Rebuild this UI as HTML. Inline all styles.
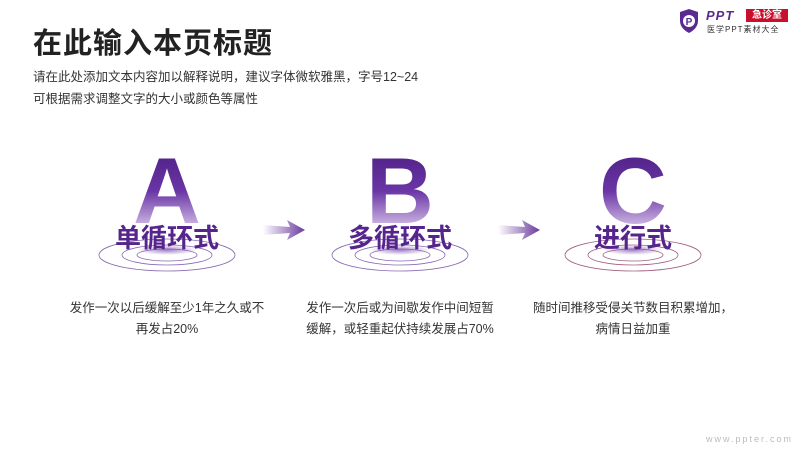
<!DOCTYPE html>
<html><head><meta charset="utf-8"><style>
body{margin:0;width:800px;height:450px;background:#fff;position:relative;overflow:hidden;font-family:"Liberation Sans","Noto Sans CJK SC",sans-serif;}
.t{position:absolute;left:33px;top:20px;font-size:29px;font-weight:bold;color:#222;letter-spacing:1px}
.s{position:absolute;left:33px;font-size:12.5px;color:#333}
.col{position:absolute;top:140px;width:232px;text-align:center}
.L{position:absolute;left:0;width:100%;top:4px;font-size:94px;font-weight:bold;line-height:94px;font-family:"Liberation Sans",sans-serif;background:linear-gradient(#4a1e80 0%,#6a35a5 50%,#c8b0e0 85%,#fff 100%);-webkit-background-clip:text;background-clip:text;color:transparent}
.N{position:absolute;left:0;width:100%;top:78px;font-size:26px;font-weight:bold;color:#55248c}
.d{position:absolute;top:158px;left:0;width:100%;font-size:12.5px;color:#333;line-height:21px}
svg{position:absolute}
</style></head><body>
<div class="t">在此输入本页标题</div>
<div class="s" style="top:66px">请在此处添加文本内容加以解释说明，建议字体微软雅黑，字号12~24</div>
<div class="s" style="top:88px">可根据需求调整文字的大小或颜色等属性</div>
<svg style="left:678px;top:8px" width="22" height="26" viewBox="0 0 22 26"><path d="M11 1 L20 4 V13 C20 19 15 23 11 25 C7 23 2 19 2 13 V4 Z" fill="#5b2a90"/><circle cx="11" cy="13" r="6" fill="#fff"/><text x="11" y="17" font-size="10" font-weight="bold" text-anchor="middle" fill="#5b2a90" font-family="Liberation Sans">P</text></svg>
<div style="position:absolute;left:706px;top:8px;font-size:13px;font-weight:bold;font-style:italic;color:#5b2a90;letter-spacing:1px">PPT</div>
<div style="position:absolute;left:746px;top:9px;width:42px;height:13px;background:#c8102e;color:#fff;font-size:10px;line-height:13px;text-align:center;font-weight:bold">急诊室</div>
<div style="position:absolute;left:707px;top:24px;font-size:8px;color:#333;letter-spacing:1px">医学PPT素材大全</div>

<svg width="800" height="300" style="left:0;top:150px">
<defs>
<linearGradient id="ar" x1="0" x2="1"><stop offset="0" stop-color="#fff"/><stop offset="1" stop-color="#6a3a9e"/></linearGradient>
<radialGradient id="gl"><stop offset="0" stop-color="#7a4aae" stop-opacity=".7"/><stop offset="1" stop-color="#7a4aae" stop-opacity="0"/></radialGradient>
</defs>
<g fill="none" stroke="#8a6ab0" stroke-width="0.8">
<ellipse cx="167" cy="105" rx="68" ry="16"/><ellipse cx="167" cy="105" rx="45" ry="10"/><ellipse cx="167" cy="105" rx="30" ry="6"/>
<ellipse cx="400" cy="105" rx="68" ry="16"/><ellipse cx="400" cy="105" rx="45" ry="10"/><ellipse cx="400" cy="105" rx="30" ry="6"/>
</g>
<g fill="none" stroke="#a06080" stroke-width="0.8">
<ellipse cx="633" cy="105" rx="68" ry="16"/><ellipse cx="633" cy="105" rx="45" ry="10"/><ellipse cx="633" cy="105" rx="30" ry="6"/>
</g>
<ellipse cx="167" cy="100" rx="30" ry="5" fill="url(#gl)"/>
<ellipse cx="400" cy="100" rx="30" ry="5" fill="url(#gl)"/>
<ellipse cx="633" cy="100" rx="30" ry="5" fill="url(#gl)"/>
<path d="M263 75 L290 77 L287 70 L305 80 L287 90 L290 83 L263 85 Z" fill="url(#ar)"/>
<path d="M498 75 L525 77 L522 70 L540 80 L522 90 L525 83 L498 85 Z" fill="url(#ar)"/>
</svg>

<div class="col" style="left:51px"><div class="L">A</div><div class="N">单循环式</div><div class="d">发作一次以后缓解至少1年之久或不<br>再发占20%</div></div>
<div class="col" style="left:284px"><div class="L">B</div><div class="N">多循环式</div><div class="d">发作一次后或为间歇发作中间短暂<br>缓解，或轻重起伏持续发展占70%</div></div>
<div class="col" style="left:517px"><div class="L">C</div><div class="N">进行式</div><div class="d">随时间推移受侵关节数目积累增加，<br>病情日益加重</div></div>
<div style="position:absolute;left:706px;top:434px;font-size:9px;color:#bbb;letter-spacing:2px">www.ppter.com</div>
</body></html>
